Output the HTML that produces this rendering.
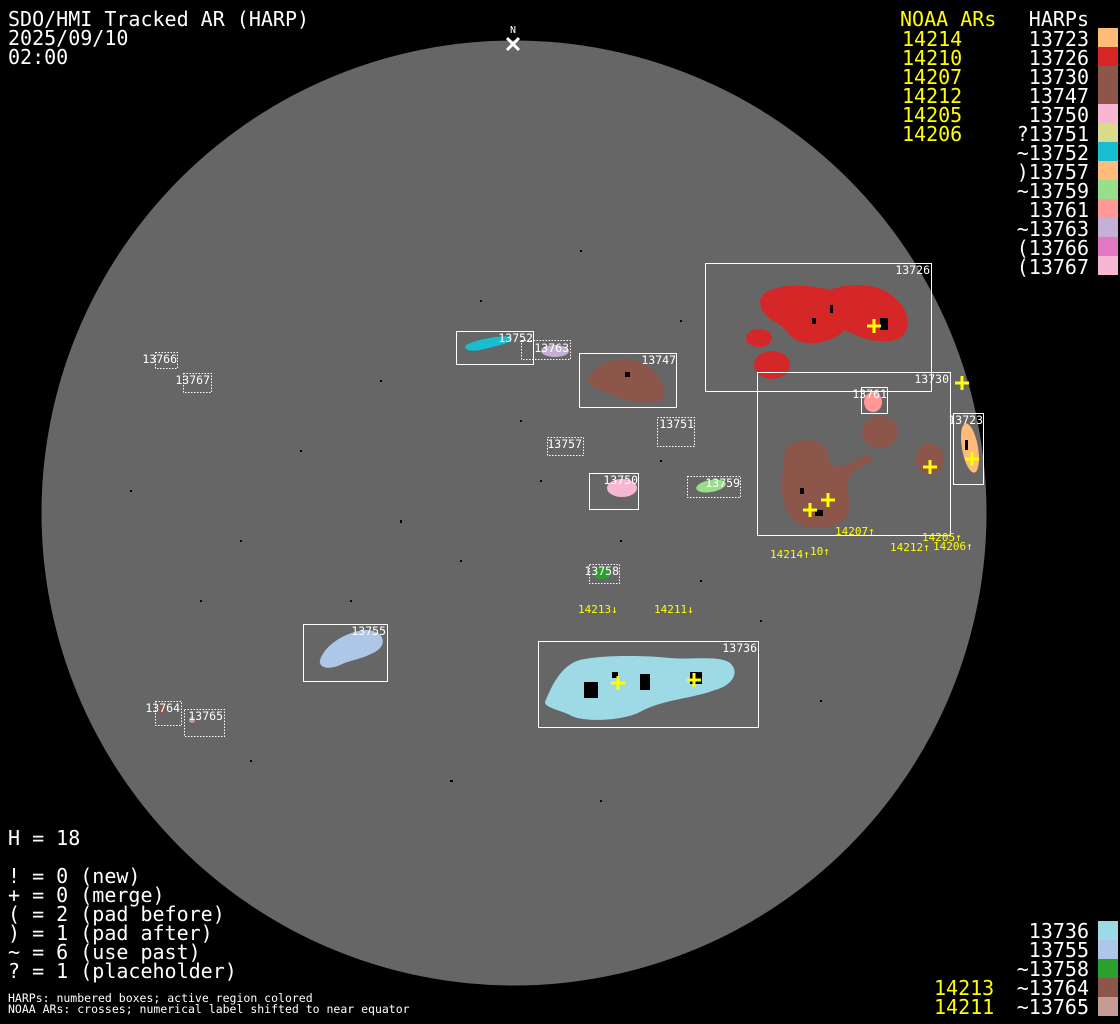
<!DOCTYPE html>
<html><head><meta charset="utf-8"><style>
html,body{margin:0;padding:0;background:#000;width:1120px;height:1024px;overflow:hidden}
svg{display:block}
.m{font-family:"DejaVu Sans Mono","Liberation Mono",monospace}
</style></head><body>
<svg width="1120" height="1024" viewBox="0 0 1120 1024" xmlns="http://www.w3.org/2000/svg">
<rect width="1120" height="1024" fill="#000"/>
<circle cx="514" cy="513" r="472.5" fill="#666666"/>
<g fill="#000">
<rect x="130" y="490" width="2" height="2"/><rect x="240" y="540" width="2" height="2"/><rect x="300" y="450" width="2" height="2"/>
<rect x="400" y="520" width="2" height="3"/><rect x="460" y="560" width="2" height="2"/><rect x="350" y="600" width="2" height="2"/>
<rect x="520" y="420" width="2" height="2"/><rect x="620" y="540" width="2" height="2"/><rect x="700" y="580" width="2" height="2"/>
<rect x="250" y="760" width="2" height="2"/><rect x="450" y="780" width="3" height="2"/><rect x="600" y="800" width="2" height="2"/>
<rect x="760" y="620" width="2" height="2"/><rect x="820" y="700" width="2" height="2"/><rect x="200" y="600" width="2" height="2"/>
<rect x="480" y="300" width="2" height="2"/><rect x="580" y="250" width="2" height="2"/><rect x="680" y="320" width="2" height="2"/>
<rect x="380" y="380" width="2" height="2"/><rect x="540" y="480" width="2" height="2"/><rect x="660" y="460" width="2" height="2"/>
</g>
<text x="513" y="33" class="m" font-size="10" fill="#fff" text-anchor="middle">N</text>
<path d="M507 38 L519 50 M519 38 L507 50" stroke="#fff" stroke-width="3"/>
<path d="M760 300 C765 285 800 282 830 290 C850 282 880 283 895 298 C912 312 912 335 895 340 C875 345 855 335 845 330 C830 345 800 348 790 335 C780 320 760 320 760 300Z" fill="#d62728"/>
<ellipse cx="759" cy="338" rx="13" ry="9" fill="#d62728"/>
<ellipse cx="772" cy="365" rx="18" ry="14" fill="#d62728"/>
<ellipse cx="873" cy="402" rx="9" ry="10" fill="#ff9896"/>
<ellipse cx="880" cy="432" rx="18" ry="16" fill="#8c564b"/>
<ellipse cx="930" cy="459" rx="14" ry="16" fill="#8c564b"/>
<ellipse cx="970" cy="448" rx="8" ry="25" fill="#ffbb78" transform="rotate(-10 970 448)"/>
<path d="M785 450 C795 435 825 437 828 455 C830 470 840 470 860 458 C870 452 875 455 870 462 C855 470 845 475 848 495 C855 520 838 530 810 528 C790 525 780 505 782 480Z" fill="#8c564b"/>
<path d="M590 375 C605 355 640 355 655 372 C670 390 665 405 650 402 C630 405 615 395 600 390 C590 388 585 382 590 375Z" fill="#8c564b"/>
<path d="M466 345 C480 338 505 335 512 337 C513 343 500 345 480 350 C470 352 463 350 466 345Z" fill="#17becf"/>
<ellipse cx="555" cy="351" rx="14" ry="6" fill="#c5b0d5"/>
<ellipse cx="622" cy="488" rx="15" ry="9" fill="#f7b6d2"/>
<ellipse cx="711" cy="486" rx="15" ry="6" fill="#98df8a" transform="rotate(-10 711 486)"/>
<ellipse cx="602" cy="573" rx="9" ry="6" fill="#2ca02c"/>
<path d="M320 660 C325 645 345 632 365 630 C385 630 388 645 375 652 C360 660 350 660 340 665 C330 670 318 668 320 660Z" fill="#aec7e8"/>
<path d="M545 702 C550 690 560 665 580 660 C600 655 640 655 670 658 C690 660 720 655 730 663 C740 672 733 685 715 690 C695 698 660 700 640 712 C620 722 580 722 570 715 C560 710 545 708 545 702Z" fill="#9edae5"/>
<circle cx="162" cy="709" r="4" fill="#8c564b"/><circle cx="192" cy="720" r="3" fill="#c49c94"/>
<g fill="#000">
<rect x="880" y="318" width="8" height="12"/><rect x="812" y="318" width="4" height="6"/><rect x="830" y="305" width="3" height="8"/>
<rect x="815" y="510" width="8" height="6"/><rect x="800" y="488" width="4" height="6"/>
<rect x="584" y="682" width="14" height="16"/><rect x="640" y="674" width="10" height="16"/><rect x="690" y="672" width="12" height="12"/><rect x="612" y="672" width="6" height="6"/>
<rect x="625" y="372" width="5" height="5"/><rect x="965" y="440" width="3" height="10"/>
</g>
<g fill="none" stroke="#fff" stroke-width="1">
<rect x="705.5" y="263.5" width="226" height="128"/>
<rect x="757.5" y="372.5" width="193" height="163"/>
<rect x="861.5" y="387.5" width="26" height="26"/>
<rect x="953.5" y="413.5" width="30" height="71"/>
<rect x="579.5" y="353.5" width="97" height="54"/>
<rect x="456.5" y="331.5" width="77" height="33"/>
<rect x="589.5" y="473.5" width="49" height="36"/>
<rect x="303.5" y="624.5" width="84" height="57"/>
<rect x="538.5" y="641.5" width="220" height="86"/>
</g>
<g fill="none" stroke="#fff" stroke-width="1" stroke-dasharray="1.5 1.5">
<rect x="521.5" y="340.5" width="49" height="19"/>
<rect x="657.5" y="417.5" width="37" height="29"/>
<rect x="547.5" y="437.5" width="36" height="18"/>
<rect x="687.5" y="476.5" width="53" height="21"/>
<rect x="589.5" y="564.5" width="30" height="19"/>
<rect x="155.5" y="701.5" width="26" height="24"/>
<rect x="184.5" y="709.5" width="40" height="27"/>
<rect x="155.5" y="352.5" width="22" height="16"/>
<rect x="183.5" y="373.5" width="28" height="19"/>
</g>
<g class="m" font-size="11.5" fill="#fff" text-anchor="end">
<text x="930" y="274">13726</text><text x="949" y="383">13730</text><text x="887" y="398">13761</text>
<text x="983" y="424">13723</text><text x="676" y="364">13747</text><text x="533" y="342">13752</text>
<text x="569" y="352">13763</text><text x="694" y="428">13751</text><text x="582" y="448">13757</text>
<text x="638" y="484">13750</text><text x="740" y="487">13759</text><text x="619" y="575">13758</text>
<text x="386" y="635">13755</text><text x="757" y="652">13736</text><text x="180" y="712">13764</text>
<text x="223" y="720">13765</text><text x="177" y="363">13766</text><text x="210" y="384">13767</text>
</g>
<g stroke="#ffff00" stroke-width="3">
<path d="M867 326h14M874 319v14"/><path d="M955 383h14M962 376v14"/><path d="M923 467h14M930 460v14"/>
<path d="M965 459h14M972 452v14"/><path d="M821 500h14M828 493v14"/><path d="M803 510h14M810 503v14"/>
<path d="M611 683h14M618 676v14"/><path d="M687 680h14M694 673v14"/>
</g>
<g class="m" font-size="11" fill="#ffff00">
<text x="835" y="535">14207↑</text><text x="922" y="541">14205↑</text><text x="890" y="551">14212↑</text>
<text x="933" y="550">14206↑</text><text x="770" y="558">14214↑</text><text x="810" y="555">10↑</text>
<text x="578" y="613">14213↓</text><text x="654" y="613">14211↓</text>
</g>
<g class="m" font-size="20" fill="#fff">
<text x="8" y="26">SDO/HMI Tracked AR (HARP)</text>
<text x="8" y="45">2025/09/10</text>
<text x="8" y="64">02:00</text>
<text x="8" y="845">H = 18</text>
<text x="8" y="883">! = 0 (new)</text>
<text x="8" y="902">+ = 0 (merge)</text>
<text x="8" y="921">( = 2 (pad before)</text>
<text x="8" y="940">) = 1 (pad after)</text>
<text x="8" y="959">~ = 6 (use past)</text>
<text x="8" y="978">? = 1 (placeholder)</text>
</g>
<g class="m" font-size="11.5" fill="#fff">
<text x="8" y="1002">HARPs: numbered boxes; active region colored</text>
<text x="8" y="1013">NOAA ARs: crosses; numerical label shifted to near equator</text>
</g>
<g class="m" font-size="20" fill="#ffff00">
<text x="900" y="26">NOAA ARs</text>
<text x="902" y="46">14214</text><text x="902" y="65">14210</text><text x="902" y="84">14207</text>
<text x="902" y="103">14212</text><text x="902" y="122">14205</text><text x="902" y="141">14206</text>
<text x="934" y="995">14213</text><text x="934" y="1014">14211</text>
</g>
<g class="m" font-size="20" fill="#fff" text-anchor="end">
<text x="1089" y="26">HARPs</text>
<text x="1089" y="46">13723</text><text x="1089" y="65">13726</text><text x="1089" y="84">13730</text>
<text x="1089" y="103">13747</text><text x="1089" y="122">13750</text><text x="1089" y="141">?13751</text>
<text x="1089" y="160">~13752</text><text x="1089" y="179">)13757</text><text x="1089" y="198">~13759</text>
<text x="1089" y="217">13761</text><text x="1089" y="236">~13763</text><text x="1089" y="255">(13766</text>
<text x="1089" y="274">(13767</text>
<text x="1089" y="938">13736</text><text x="1089" y="957">13755</text><text x="1089" y="976">~13758</text>
<text x="1089" y="995">~13764</text><text x="1089" y="1014">~13765</text>
</g>
<g>
<rect x="1098" y="28" width="20" height="19" fill="#ffbb78"/><rect x="1098" y="47" width="20" height="19" fill="#d62728"/>
<rect x="1098" y="66" width="20" height="19" fill="#8c564b"/><rect x="1098" y="85" width="20" height="19" fill="#8c564b"/>
<rect x="1098" y="104" width="20" height="19" fill="#f7b6d2"/><rect x="1098" y="123" width="20" height="19" fill="#dbdb8d"/>
<rect x="1098" y="142" width="20" height="19" fill="#17becf"/><rect x="1098" y="161" width="20" height="19" fill="#ffbb78"/>
<rect x="1098" y="180" width="20" height="19" fill="#98df8a"/><rect x="1098" y="199" width="20" height="19" fill="#ff9896"/>
<rect x="1098" y="218" width="20" height="19" fill="#c5b0d5"/><rect x="1098" y="237" width="20" height="19" fill="#e377c2"/>
<rect x="1098" y="256" width="20" height="19" fill="#f7b6d2"/>
<rect x="1098" y="921" width="20" height="19" fill="#9edae5"/><rect x="1098" y="940" width="20" height="19" fill="#aec7e8"/>
<rect x="1098" y="959" width="20" height="19" fill="#2ca02c"/><rect x="1098" y="978" width="20" height="19" fill="#8c564b"/>
<rect x="1098" y="997" width="20" height="19" fill="#c49c94"/>
</g>
</svg>
</body></html>
